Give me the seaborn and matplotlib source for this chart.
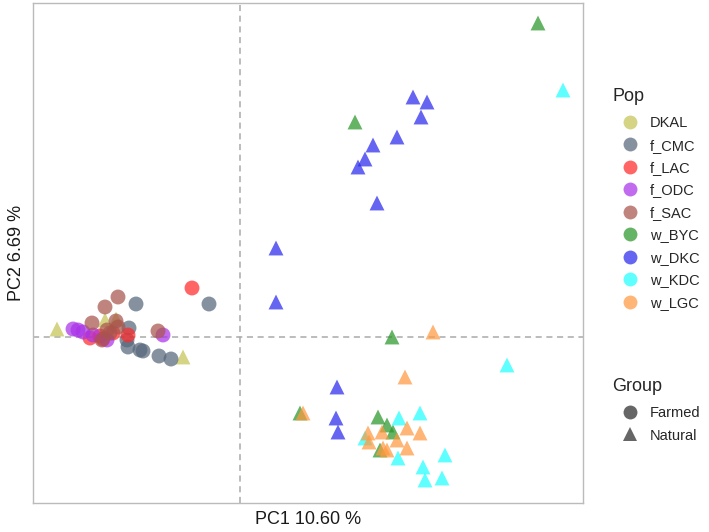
import numpy as np
import pandas as pd
import matplotlib
matplotlib.use("Agg")
import matplotlib.pyplot as plt
from matplotlib.lines import Line2D
import seaborn as sns

sns.set_style("white")
plt.rcParams['font.family'] = ['Liberation Sans', 'DejaVu Sans']

# ---- data (PC scores) ----
dkal_x = [-0.183, -0.135, -0.124, -0.057]
dkal_y = [0.008, 0.017, 0.018, -0.020]

fcmc_x = [-0.104, -0.031, -0.111, -0.113, -0.112, -0.100, -0.097, -0.081, -0.069]
fcmc_y = [0.033, 0.033, 0.009, -0.003, -0.010, -0.013, -0.014, -0.019, -0.022]

flac_x = [-0.048, -0.112, -0.150, -0.137, -0.127, -0.140]
flac_y = [0.049, 0.002, -0.001, -0.002, 0.004, 0.001]

fodc_x = [-0.162, -0.157, -0.147, -0.077, -0.133, -0.167]
fodc_y = [0.007, 0.005, 0.002, 0.002, -0.003, 0.008]

fsac_x = [-0.122, -0.135, -0.148, -0.124, -0.082, -0.133, -0.130, -0.138, -0.122]
fsac_y = [0.040, 0.030, 0.014, 0.016, 0.006, 0.007, 0.004, -0.003, 0.010]

wbyc_x = [0.298, 0.115, 0.152, 0.060, 0.138, 0.147, 0.153, 0.140]
wbyc_y = [0.314, 0.215, 0.000, -0.076, -0.080, -0.088, -0.095, -0.113]

wdkc_x = [0.173, 0.187, 0.181, 0.157, 0.133, 0.125, 0.118, 0.137, 0.036, 0.036, 0.097, 0.096, 0.098]
wdkc_y = [0.240, 0.235, 0.220, 0.200, 0.192, 0.178, 0.170, 0.134, 0.089, 0.035, -0.050, -0.081, -0.095]

wkdc_x = [0.323, 0.267, 0.159, 0.180, 0.125, 0.158, 0.183, 0.205, 0.185, 0.202]
wkdc_y = [0.247, -0.028, -0.081, -0.076, -0.101, -0.121, -0.130, -0.118, -0.143, -0.141]

wlgc_x = [0.193, 0.165, 0.063, 0.167, 0.180, 0.142, 0.128, 0.157, 0.129, 0.167, 0.147, 0.143]
wlgc_y = [0.005, -0.040, -0.076, -0.091, -0.096, -0.095, -0.096, -0.103, -0.105, -0.111, -0.113, -0.111]

pops = ["DKAL", "f_CMC", "f_LAC", "f_ODC", "f_SAC", "w_BYC", "w_DKC", "w_KDC", "w_LGC"]
pop_groups = ["Natural", "Farmed", "Farmed", "Farmed", "Farmed", "Natural", "Natural", "Natural", "Natural"]
pop_colors = ["#C4C455", "#56677A", "#FF2A2A", "#A933E8", "#A8554C",
              "#2A962A", "#2A2AEE", "#22FFFF", "#FF9940"]
xs = [dkal_x, fcmc_x, flac_x, fodc_x, fsac_x, wbyc_x, wdkc_x, wkdc_x, wlgc_x]
ys = [dkal_y, fcmc_y, flac_y, fodc_y, fsac_y, wbyc_y, wdkc_y, wkdc_y, wlgc_y]

rows = []
for p, g, xx, yy in zip(pops, pop_groups, xs, ys):
    for a, b in zip(xx, yy):
        rows.append((p, g, a, b))
df = pd.DataFrame(rows, columns=["Pop", "Group", "PC1", "PC2"])

palette = dict(zip(pops, pop_colors))
markers = {"Farmed": "o", "Natural": "^"}

fig = plt.figure(figsize=(7.09, 5.32), dpi=100)
ax = fig.add_axes([33/709, 1-503/532, (583-33)/709, (503-3)/532])

ax.axvline(0, color="#AAAAAA", linestyle=(0, (4, 3)), lw=1.1, zorder=0)
ax.axhline(0, color="#AAAAAA", linestyle=(0, (4, 3)), lw=1.1, zorder=0)

sns.scatterplot(data=df, x="PC1", y="PC2", hue="Pop", style="Group",
                palette=palette, markers=markers, hue_order=pops,
                s=115, alpha=0.72, linewidth=0, ax=ax, legend=False)

ax.set_xlim(-0.207, 0.343)
ax.set_ylim(-0.166, 0.334)
ax.set_xticks([])
ax.set_yticks([])
for sp in ax.spines.values():
    sp.set_color("#BBBBBB")
    sp.set_linewidth(1.0)
ax.set_xlabel("PC1 10.60 %", fontsize=13, labelpad=6, color="#1a1a1a")
ax.set_ylabel("PC2 6.69 %", fontsize=13, labelpad=6, color="#1a1a1a")

pop_handles = [Line2D([], [], marker="o", ls="", color=c, alpha=0.72,
                      markersize=10, markeredgewidth=0) for c in pop_colors]
leg1 = fig.legend(pop_handles, pops, title="Pop", loc="upper left",
                  bbox_to_anchor=(612/709, 1-88/532), frameon=False,
                  fontsize=10.5, title_fontsize=13, handletextpad=0.2,
                  handlelength=2.4, labelspacing=0.58, alignment="left",
                  borderaxespad=0, borderpad=0)
leg1._legend_box.sep = 8
grp_handles = [Line2D([], [], marker=m, ls="", color="#555555", alpha=0.9,
                      markersize=10, markeredgewidth=0) for m in ["o", "^"]]
leg2 = fig.legend(grp_handles, ["Farmed", "Natural"], title="Group", loc="upper left",
                  bbox_to_anchor=(612/709, 1-378/532), frameon=False,
                  fontsize=10.5, title_fontsize=13, handletextpad=0.2,
                  handlelength=2.4, labelspacing=0.58, alignment="left",
                  borderaxespad=0, borderpad=0)
leg2._legend_box.sep = 8

fig.savefig("out.png", dpi=100)
